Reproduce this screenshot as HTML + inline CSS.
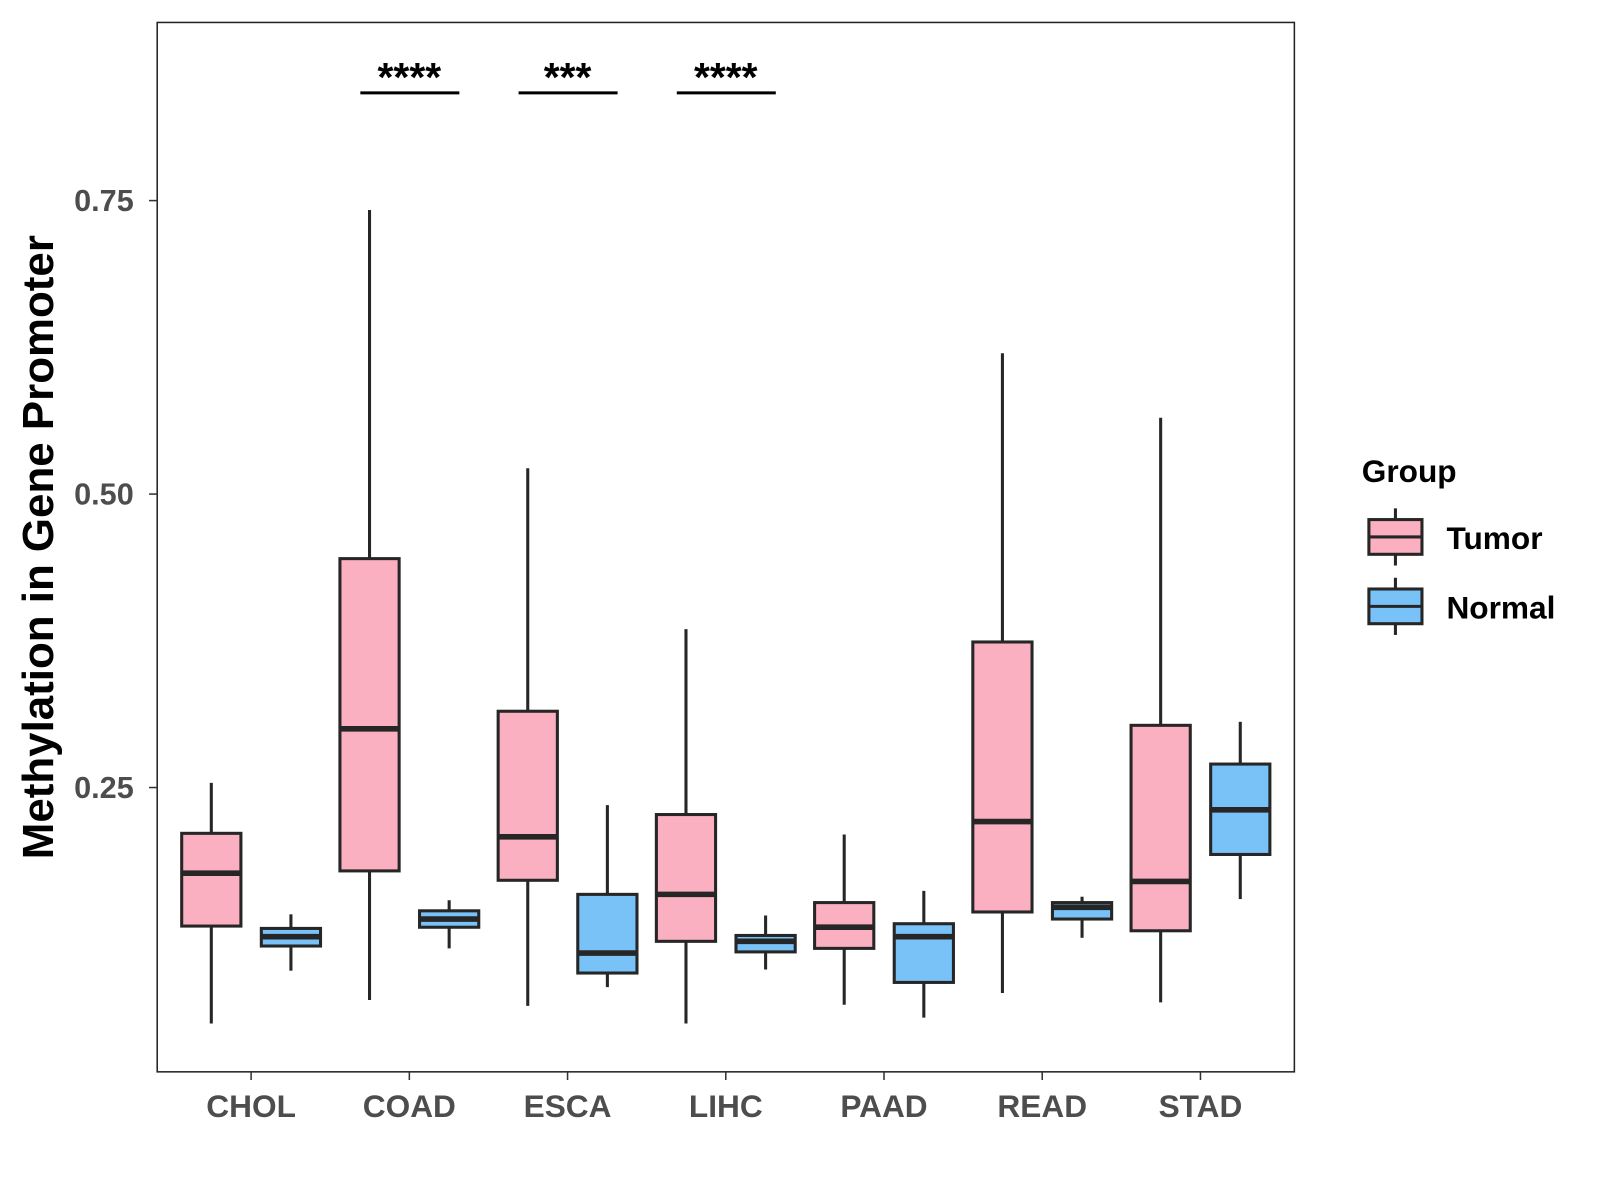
<!DOCTYPE html>
<html><head><meta charset="utf-8"><style>
html,body{margin:0;padding:0;background:#fff;}
svg{display:block;font-family:"Liberation Sans",Arial,sans-serif;}
</style></head><body>
<svg id="chart" width="1600" height="1200" viewBox="0 0 1600 1200">
<rect x="0" y="0" width="1600" height="1200" fill="#fff"/>
<g id="plot" transform="scale(1.0208)"></g>
</svg>
<script>
const categories = ["CHOL","COAD","ESCA","LIHC","PAAD","READ","STAD"];
const tumorStats = [
 [0.049,0.132,0.177,0.211,0.254],
 [0.069,0.179,0.300,0.445,0.742],
 [0.064,0.171,0.208,0.315,0.522],
 [0.049,0.119,0.159,0.227,0.385],
 [0.065,0.113,0.131,0.152,0.210],
 [0.075,0.144,0.221,0.374,0.620],
 [0.067,0.128,0.170,0.303,0.565]
];
const normalStats = [
 [0.094,0.115,0.123,0.130,0.142],
 [0.113,0.131,0.138,0.145,0.154],
 [0.080,0.092,0.109,0.159,0.235],
 [0.095,0.110,0.119,0.124,0.141],
 [0.054,0.084,0.123,0.134,0.162],
 [0.122,0.138,0.148,0.152,0.157],
 [0.155,0.193,0.231,0.270,0.306]
];
const yTicks = [0.25,0.50,0.75];
const yTickLabels = ["0.25","0.50","0.75"];
const sigCategories = ["COAD","ESCA","LIHC"];
const sigLabels = ["****","***","****"];

const NS="http://www.w3.org/2000/svg";
const g=document.getElementById('plot');
const PL=154,PR=1268,PT=22,PB=1050;
function yScale(v){return 484-(v-0.5)*1150;}
function xScale(c){return 246+categories.indexOf(c)*155;}
function mk(tag,attrs,parent){const e=document.createElementNS(NS,tag);for(const k in attrs)e.setAttribute(k,attrs[k]);(parent||g).appendChild(e);return e;}
const LC="#262626";

const panel=mk('rect',{x:PL,y:PT,width:PR-PL,height:PB-PT,fill:'#fff',stroke:'#222','stroke-width':1.5});



yTicks.forEach((t,i)=>{
 const y=yScale(t);
 const tk=mk('line',{x1:146,x2:PL,y1:y,y2:y,stroke:'#333','stroke-width':1.5});
 
 
 const tx=mk('text',{x:131,y:y+10,'text-anchor':'end','font-size':30,'font-weight':'bold',fill:'#4d4d4d'});
 tx.textContent=yTickLabels[i];
 
 
});
categories.forEach(c=>{
 const x=xScale(c);
 const tk=mk('line',{x1:x,x2:x,y1:PB,y2:PB+8,stroke:'#333','stroke-width':1.5});
 
 
 const tx=mk('text',{x:x,y:1094,'text-anchor':'middle','font-size':31,'font-weight':'bold',fill:'#4d4d4d'});
 tx.textContent=c;
 
 
});

function drawBox(cx,s,fill,name){
 const grp=mk('g',{});
 
 
 const w=58;
 mk('line',{x1:cx,x2:cx,y1:yScale(s[4]),y2:yScale(s[3]),stroke:LC,'stroke-width':3},grp);
 mk('line',{x1:cx,x2:cx,y1:yScale(s[1]),y2:yScale(s[0]),stroke:LC,'stroke-width':3},grp);
 mk('rect',{x:cx-w/2,y:yScale(s[3]),width:w,height:yScale(s[1])-yScale(s[3]),fill:fill,stroke:LC,'stroke-width':3},grp);
 mk('line',{x1:cx-w/2,x2:cx+w/2,y1:yScale(s[2]),y2:yScale(s[2]),stroke:LC,'stroke-width':5.5},grp);
}
categories.forEach((c,i)=>{
 const x=xScale(c);
 drawBox(x-39,tumorStats[i],'#FBB0C2','box-tumor-'+c.toLowerCase());
 drawBox(x+39,normalStats[i],'#78C2F8','box-normal-'+c.toLowerCase());
});

sigCategories.forEach((c,i)=>{
 const x=xScale(c);
 const ln=mk('line',{x1:x-48,x2:x+49,y1:91,y2:91,stroke:'#000','stroke-width':3});
 
 
 const tx=mk('text',{x:x,y:89,'text-anchor':'middle','font-size':40,'font-weight':'bold',fill:'#000'});
 tx.textContent=sigLabels[i];
 
 
});

const yt=mk('text',{x:0,y:0,transform:'translate(52,536) rotate(-90)','text-anchor':'middle','font-size':43,'font-weight':'bold',fill:'#000'});
yt.textContent='Methylation in Gene Promoter';



const lg=mk('g',{});


const lt=mk('text',{x:1334,y:472,'font-size':31,'font-weight':'bold',fill:'#000'},lg);
lt.textContent='Group';


[['Tumor','#FBB0C2',509],['Normal','#78C2F8',577]].forEach(([lab,col,y])=>{
 const e=mk('g',{},lg);
 
 
 mk('line',{x1:1367,x2:1367,y1:y-11,y2:y+45,stroke:LC,'stroke-width':3},e);
 mk('rect',{x:1341,y:y,width:52,height:34,fill:col,stroke:LC,'stroke-width':3},e);
 mk('line',{x1:1341,x2:1393,y1:y+17,y2:y+17,stroke:LC,'stroke-width':3},e);
 const t=mk('text',{x:1417,y:y+29,'font-size':31,'font-weight':'bold',fill:'#000'},e);
 t.textContent=lab;
});
</script>
</body></html>
